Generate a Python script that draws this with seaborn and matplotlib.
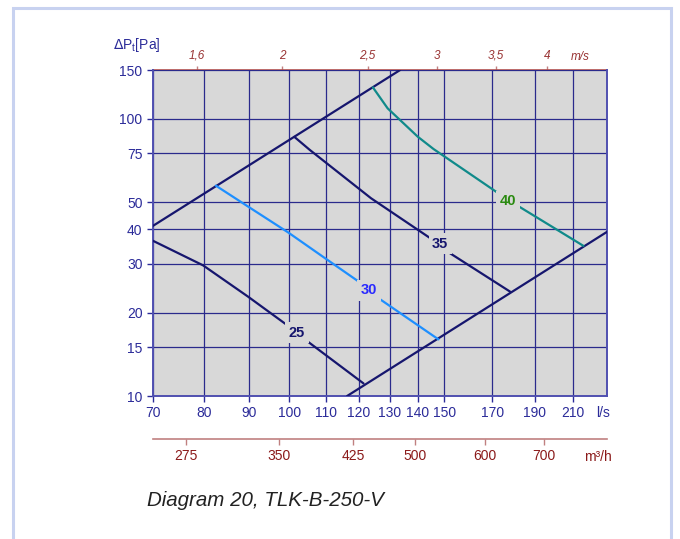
import matplotlib
matplotlib.use('Agg')
import matplotlib.pyplot as plt
import seaborn as sns
from matplotlib.ticker import FixedLocator, FixedFormatter, NullLocator
from matplotlib.patches import Rectangle

# ---------------- data ----------------
# system curves (straight lines in log-log), l/s vs Pa
sys_a_q = [70.0, 133.6]
sys_a_p = [41.1, 150.0]
sys_b_q = [116.3, 229.5]
sys_b_p = [10.0, 39.1]

# fan curves (labelled 25, 30, 35, 40)
fan25_q = [70.0, 79.8, 89.8, 99.7, 104.7, 121.4]
fan25_p = [36.3, 29.6, 22.8, 17.9, 15.8, 11.1]
fan30_q = [82.5, 89.8, 99.7, 109.8, 119.8, 126.6, 147.7]
fan30_p = [57.4, 48.2, 38.9, 31.4, 25.9, 22.4, 16.0]
fan35_q = [101.3, 105.5, 123.8, 145.1, 152.3, 178.1]
fan35_p = [86.1, 77.2, 51.7, 36.8, 32.7, 23.8]
fan40_q = [124.4, 129.3, 139.9, 145.8, 172.7, 182.8, 215.8]
fan40_p = [129.9, 109.1, 86.2, 77.8, 53.9, 48.0, 34.8]

curve_labels = ['25', '30', '35', '40']
label_q = [102.0, 123.1, 148.4, 177.2]
label_p = [16.9, 24.1, 35.4, 50.5]

x_ticks = [70, 80, 90, 100, 110, 120, 130, 140, 150, 170, 190, 210]
y_ticks = [10, 15, 20, 30, 40, 50, 75, 100, 150]
v_ticks = [1.6, 2.0, 2.5, 3.0, 3.5, 4.0]
v_labels = ['1,6', '2', '2,5', '3', '3,5', '4']
m3h_ticks = [275, 350, 425, 500, 600, 700]

x_min, x_max = 70, 229.5
y_min, y_max = 10, 150
duct_area = 3.14159265 * 0.125 ** 2  # m2, 250 mm duct

# ---------------- style ----------------
sns.set_theme(style='white')
plt.rcParams['font.family'] = ['Liberation Sans', 'DejaVu Sans']

BG = '#d8d8d8'
GRID = '#2a2a8c'
NAVY = '#16166e'
AXBLUE = '#2b2b99'
DARKRED = '#8b1a1a'
REDLINE = '#c08080'

fig = plt.figure(figsize=(6.8, 5.39), dpi=100)
ax = fig.add_axes([153 / 680, 1 - 396 / 539, 454 / 680, 326 / 539])
ax.set_facecolor(BG)
ax.set_xscale('log')
ax.set_yscale('log')
ax.set_xlim(x_min, x_max)
ax.set_ylim(y_min, y_max)

# grid
for xv in x_ticks:
    ax.axvline(xv, color=GRID, lw=0.9, zorder=1)
for yv in y_ticks:
    ax.axhline(yv, color=GRID, lw=0.9, zorder=1)

# curves
lw = 1.6
sns.lineplot(x=sys_a_q, y=sys_a_p, ax=ax, color=NAVY, lw=lw, estimator=None, sort=False, zorder=3)
sns.lineplot(x=sys_b_q, y=sys_b_p, ax=ax, color=NAVY, lw=lw, estimator=None, sort=False, zorder=3)
sns.lineplot(x=fan25_q, y=fan25_p, ax=ax, color=NAVY, lw=lw, estimator=None, sort=False, zorder=3)
sns.lineplot(x=fan30_q, y=fan30_p, ax=ax, color='#1e8fff', lw=lw, estimator=None, sort=False, zorder=3)
sns.lineplot(x=fan35_q, y=fan35_p, ax=ax, color=NAVY, lw=lw, estimator=None, sort=False, zorder=3)
sns.lineplot(x=fan40_q, y=fan40_p, ax=ax, color='#108a8a', lw=lw, estimator=None, sort=False, zorder=3)

label_colors = [NAVY, '#2a2aff', NAVY, '#2a8a10']
for t, q, p, c in zip(curve_labels, label_q, label_p, label_colors):
    ax.text(q, p, t, color=c, fontsize=10.5, fontweight='bold', ha='center', va='center',
            zorder=5, bbox=dict(facecolor=BG, edgecolor='none', pad=2.5))

# main axes ticks
ax.xaxis.set_major_locator(FixedLocator(x_ticks))
ax.xaxis.set_major_formatter(FixedFormatter([str(v) for v in x_ticks]))
ax.xaxis.set_minor_locator(NullLocator())
ax.yaxis.set_major_locator(FixedLocator(y_ticks))
ax.yaxis.set_major_formatter(FixedFormatter([str(v) for v in y_ticks]))
ax.yaxis.set_minor_locator(NullLocator())
ax.tick_params(axis='both', which='major', direction='out', length=4, width=1,
               color=AXBLUE, labelcolor=AXBLUE, labelsize=10, pad=3.5,
               bottom=True, left=True)

for s in ['left', 'bottom', 'right']:
    ax.spines[s].set_color('#5050b0')
    ax.spines[s].set_linewidth(1.4)
ax.spines['top'].set_visible(False)

# top axis: velocity m/s
sec_top = ax.secondary_xaxis('top', functions=(lambda q: q / 1000 / duct_area,
                                               lambda v: v * duct_area * 1000))
sec_top.xaxis.set_major_locator(FixedLocator(v_ticks))
sec_top.xaxis.set_major_formatter(FixedFormatter(v_labels))
sec_top.xaxis.set_minor_locator(NullLocator())
sec_top.tick_params(direction='out', length=3, width=1, color=REDLINE,
                    labelcolor='#993333', labelsize=8.5, pad=3)
for lab in sec_top.get_xticklabels():
    lab.set_fontstyle('italic')
sec_top.spines['top'].set_color('#b05050')
sec_top.spines['top'].set_linewidth(1.2)

# bottom secondary axis: m3/h
sec_bot = ax.secondary_xaxis(-0.132, functions=(lambda q: q * 3.6, lambda m: m / 3.6))
sec_bot.xaxis.set_major_locator(FixedLocator(m3h_ticks))
sec_bot.xaxis.set_major_formatter(FixedFormatter([str(v) for v in m3h_ticks]))
sec_bot.xaxis.set_minor_locator(NullLocator())
sec_bot.tick_params(direction='out', length=4, width=1, color=REDLINE,
                    labelcolor=DARKRED, labelsize=10, pad=3.5)
sec_bot.spines['bottom'].set_color(REDLINE)
sec_bot.spines['bottom'].set_linewidth(1.2)

# unit labels
ax.text(0.9405, 1.04, 'm/s', transform=ax.transAxes, color='#993333', fontsize=8.5,
        fontstyle='italic', ha='center', va='center')
ax.text(0.991, -0.052, 'l/s', transform=ax.transAxes, color=AXBLUE, fontsize=10,
        ha='center', va='center')
ax.text(0.980, -0.187, 'm³/h', transform=ax.transAxes, color=DARKRED, fontsize=10,
        ha='center', va='center')
ax.text(-0.035, 1.077, r'$\Delta\mathregular{P_t[Pa]}$', transform=ax.transAxes,
        color=AXBLUE, fontsize=10, ha='center', va='center')

# caption
fig.text(147 / 680, 1 - 500 / 539, 'Diagram 20, TLK-B-250-V', fontsize=14.8,
         fontstyle='italic', color='#222222', ha='left', va='center')

# outer border
fig.patches.append(Rectangle((13 / 680, -0.05), 658 / 680, 1 - 8 / 539 + 0.05,
                             transform=fig.transFigure, fill=False,
                             edgecolor='#c8d2f0', lw=2.2))

fig.savefig('out.png', dpi=100)
